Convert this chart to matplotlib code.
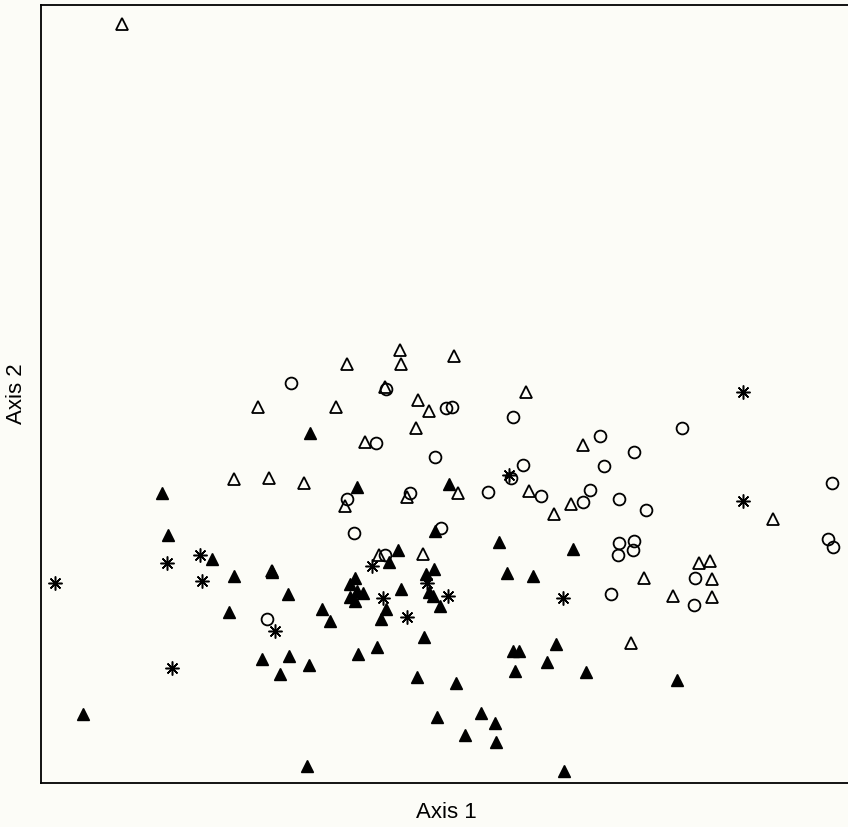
import matplotlib
matplotlib.use("Agg")
import matplotlib.pyplot as plt

# Ordination scores (arbitrary axis units)
filled_tri_x = [310, 357, 449, 162, 168, 212, 435, 499, 573, 398, 234, 272, 288, 229, 262,
                289, 280, 309, 83, 307, 389, 434, 426, 507, 533, 355, 350, 357, 363, 350,
                355, 401, 429, 433, 440, 322, 330, 386, 381, 424, 377, 358, 513, 519, 556,
                547, 515, 417, 456, 437, 481, 495, 465, 496, 564, 586, 677]
filled_tri_y = [433, 487, 484, 493, 535, 559, 531, 542, 549, 550, 576, 572, 594, 612, 659,
                656, 674, 665, 714, 766, 562, 569, 574, 573, 576, 578, 584, 591, 593, 597,
                601, 589, 592, 596, 606, 609, 621, 609, 619, 637, 647, 654, 651, 651, 644,
                662, 671, 677, 683, 717, 713, 723, 735, 742, 771, 672, 680]

open_tri_x = [122, 258, 234, 269, 304, 400, 454, 347, 401, 385, 526, 336, 418, 429, 416,
              365, 583, 458, 529, 345, 407, 571, 554, 379, 423, 272, 773, 699, 710, 644,
              712, 673, 712, 631]
open_tri_y = [24, 407, 479, 478, 483, 350, 356, 364, 364, 387, 392, 407, 400, 411, 428,
              442, 445, 493, 491, 506, 497, 504, 514, 555, 554, 571, 519, 563, 561, 578,
              579, 596, 597, 643]

circle_x = [291, 386, 446, 452, 513, 376, 435, 523, 511, 488, 541, 347, 410, 354, 441,
            385, 682, 600, 634, 604, 590, 583, 619, 646, 832, 828, 833, 619, 634, 618,
            633, 695, 611, 694, 267]
circle_y = [383, 389, 408, 407, 417, 443, 457, 465, 478, 492, 496, 499, 493, 533, 528,
            555, 428, 436, 452, 466, 490, 502, 499, 510, 483, 539, 547, 543, 541, 555,
            550, 578, 594, 605, 619]

star_x = [743, 743, 509, 55, 167, 200, 202, 275, 172, 372, 427, 383, 448, 563, 407]
star_y = [392, 501, 475, 583, 563, 555, 581, 631, 668, 566, 583, 598, 596, 598, 617]

W, H = 848, 827
fig = plt.figure(figsize=(W / 100, H / 100), dpi=100, facecolor="#fcfcf7")
ax = fig.add_axes([41 / W, 1 - 783 / H, (851 - 41) / W, (783 - 5) / H])
ax.set_facecolor("#fcfcf7")

ax.plot(filled_tri_x, filled_tri_y, linestyle="none", marker="^", ms=9,
        mfc="black", mec="black", mew=1)
ax.plot(open_tri_x, open_tri_y, linestyle="none", marker="^", ms=9,
        mfc="none", mec="black", mew=1.3)
ax.plot(circle_x, circle_y, linestyle="none", marker="o", ms=8.5,
        mfc="none", mec="black", mew=1.3)
ax.plot(star_x, star_y, linestyle="none", marker=(8, 2, 0), ms=10,
        mec="black", mew=1.1)

ax.set_xlim(41, 851)
ax.set_ylim(783, 5)
ax.set_xticks([])
ax.set_yticks([])
for s in ax.spines.values():
    s.set_linewidth(1.3)

ax.set_xlabel("Axis 1", fontsize=16, family="Liberation Sans", labelpad=14)
ax.set_ylabel("Axis 2", fontsize=16, family="Liberation Sans", labelpad=10)

fig.savefig("out.png", dpi=100, facecolor=fig.get_facecolor())
